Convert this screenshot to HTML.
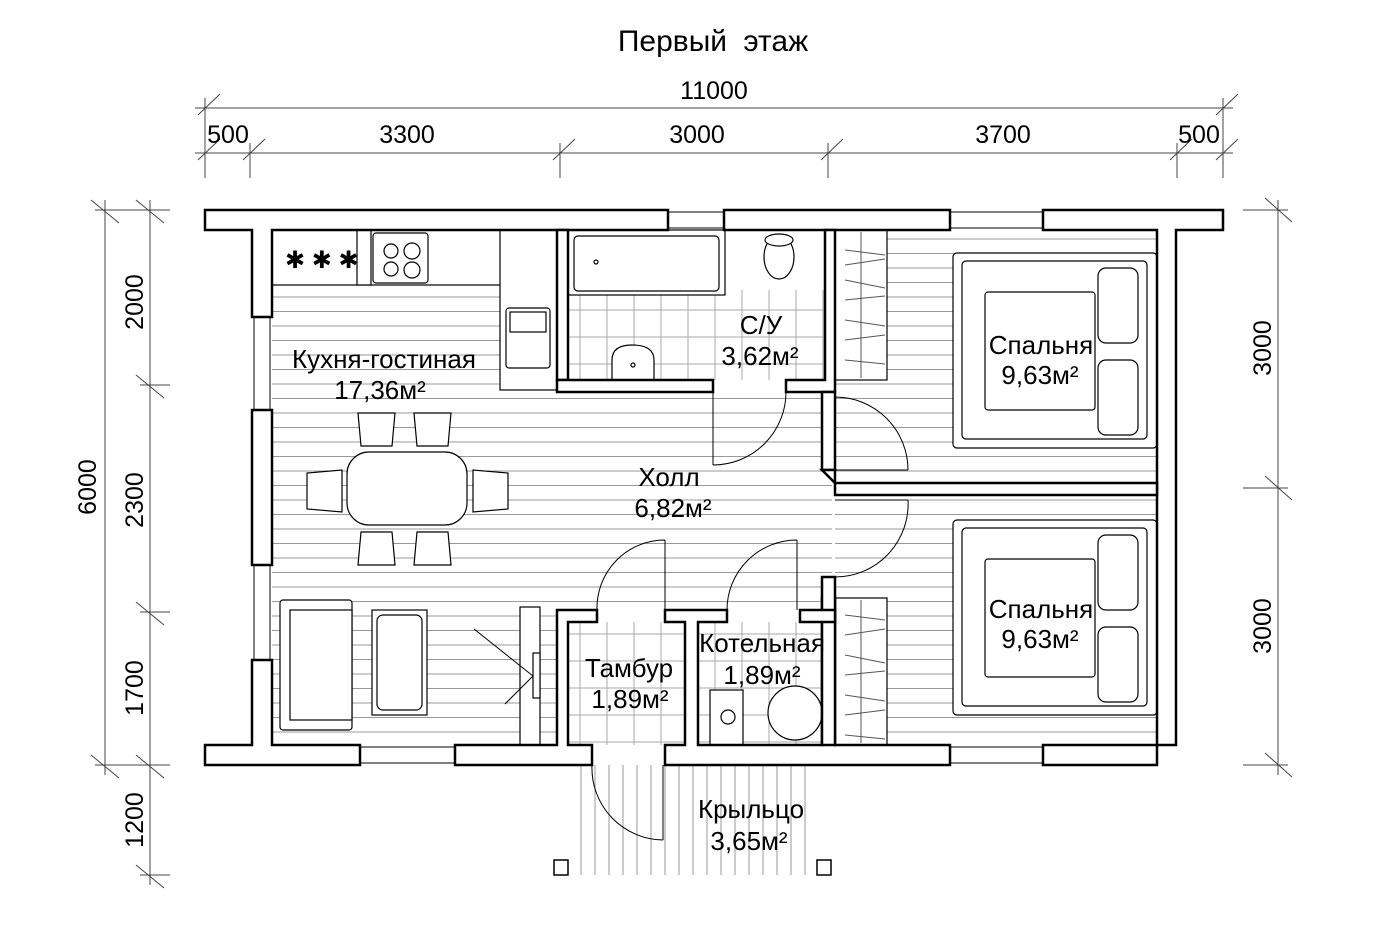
<!DOCTYPE html>
<html><head><meta charset="utf-8"><style>
html,body{margin:0;padding:0;background:#fff;}
svg{display:block;font-family:"Liberation Sans",sans-serif;}
</style></head><body>
<svg width="1380" height="932" viewBox="0 0 1380 932" xmlns="http://www.w3.org/2000/svg">
<defs>
<pattern id="hh" width="20" height="14.5" patternUnits="userSpaceOnUse"><line x1="0" y1="7" x2="20" y2="7" stroke="#999" stroke-width="1"/></pattern>
<pattern id="vv" width="14" height="20" patternUnits="userSpaceOnUse"><line x1="7" y1="0" x2="7" y2="20" stroke="#999" stroke-width="1"/></pattern>
<pattern id="gg" width="27" height="27" patternUnits="userSpaceOnUse"><path d="M13 0V27M0 13H27" stroke="#aaa" stroke-width="1"/></pattern>
</defs>
<rect x="272" y="285" width="285" height="460" fill="url(#hh)"/>
<rect x="557" y="390" width="275" height="220" fill="url(#hh)"/>
<rect x="835" y="230" width="322" height="515" fill="url(#hh)"/>
<rect x="568" y="290" width="257" height="90" fill="url(#gg)"/>
<rect x="568" y="622" width="117" height="123" fill="url(#gg)"/>
<rect x="698" y="622" width="124" height="123" fill="url(#gg)"/>
<rect x="568" y="765" width="249" height="110" fill="url(#vv)"/>
<g fill="#fff" stroke="#000" stroke-width="1.2">
<rect x="272" y="230" width="285" height="55"/>
<rect x="500" y="230" width="57" height="160"/>
<rect x="357" y="230" width="14" height="55"/>
<rect x="373" y="233" width="55" height="50" rx="3"/>
<circle cx="391" cy="251" r="7"/><circle cx="412" cy="251" r="8"/><circle cx="391" cy="269" r="7"/><circle cx="412" cy="270" r="8"/>
<rect x="506" y="308" width="44" height="60" rx="3"/><rect x="510" y="312" width="36" height="20"/>
</g>
<text x="285" y="268" font-size="24">✱ ✱ ✱</text>
<g fill="#fff" stroke="#000" stroke-width="1.2">
<rect x="568" y="230" width="157" height="65"/>
<rect x="574" y="236" width="145" height="55" rx="4"/>
<ellipse cx="779" cy="257" rx="15" ry="22"/><ellipse cx="779" cy="240" rx="14" ry="6"/>
<path d="M612 380 V360 Q612 345 632 345 Q654 345 654 360 V380 Z"/>
<circle cx="633" cy="365" r="2"/>
<circle cx="596" cy="262" r="2"/>
</g>
<g fill="#fff" stroke="#000" stroke-width="1.2">
<rect x="347" y="452" width="120" height="73" rx="22"/>
<path d="M358 413h37l-3 33h-31z"/><path d="M414 413h37l-3 33h-31z"/>
<path d="M358 565h37l-3-33h-31z"/><path d="M414 565h37l-3-33h-31z"/>
<path d="M307 473v36l35 3v-42z"/><path d="M508 473v36l-35 3v-42z"/>
<rect x="280" y="600" width="72" height="130" rx="3"/><rect x="290" y="610" width="62" height="110"/>
<rect x="372" y="610" width="55" height="105"/><rect x="377" y="615" width="45" height="95" rx="6"/>
<rect x="520" y="607" width="20" height="138"/><rect x="533" y="653" width="7" height="45"/>
</g>
<path d="M474 629L533 676L505 704" stroke="#000" fill="none"/>
<g fill="#fff" stroke="#000" stroke-width="1.2">
<rect x="835" y="230" width="52" height="150"/><rect x="835" y="598" width="52" height="147"/>
<rect x="953" y="253" width="204" height="195" rx="4"/><rect x="962" y="261" width="185" height="178" rx="4"/>
<rect x="985" y="292" width="110" height="118" rx="3"/>
<rect x="1098" y="268" width="40" height="75" rx="8"/><rect x="1098" y="360" width="40" height="75" rx="8"/>
<rect x="953" y="520" width="204" height="195" rx="4"/><rect x="962" y="528" width="185" height="178" rx="4"/>
<rect x="985" y="559" width="110" height="118" rx="3"/>
<rect x="1098" y="535" width="40" height="75" rx="8"/><rect x="1098" y="627" width="40" height="75" rx="8"/>
</g>
<g stroke="#555" stroke-width="1">
<line x1="861" y1="232" x2="861" y2="378"/><line x1="861" y1="600" x2="861" y2="743"/>
<path d="M845 250l40 5M845 265l40 -6M845 280l40 8M845 300l40-4M845 320l40 6M845 340l40-5M845 360l40 4"/>
<path d="M845 615l40 5M845 635l40 -6M845 655l40 8M845 675l40-4M845 695l40 6M845 715l40-5M845 735l40 4"/>
</g>
<g fill="#fff" stroke="#000" stroke-width="1.2">
<rect x="710" y="690" width="33" height="55"/><circle cx="728" cy="717" r="7"/>
<circle cx="795" cy="713" r="27"/>
</g>
<g fill="#fff" stroke="#000" stroke-width="2.5">
<path d="M205 210H668V230H272V317H252V230H205Z"/>
<rect x="724" y="210" width="226" height="20"/>
<path d="M1043 210H1223V230H1176V745H1157V230H1043Z"/>
<rect x="252" y="410" width="20" height="155"/>
<path d="M252 660H272V745H360V765H205V745H252Z"/>
<path d="M455 745H557V610H597V622H568V745H592V765H455Z"/>
<path d="M665 765V745H685V622H665V610H727V622H698V745H822V598H835V745H950V765Z"/>
<path d="M1043 745H1157V765H1043Z"/>
<path d="M557 230H568V380H557Z"/>
<path d="M557 380H713V392H557Z"/>
<path d="M786 380H825V230H835V380V392H786Z"/>
<path d="M822 392H835V470H822Z"/>
<path d="M822 577H835V745H822Z"/>
<path d="M822 470H835V495H1157V483H835Z"/>
<path d="M800 610H835V622H800Z"/>
</g>
<g stroke="#000" stroke-width="1" fill="none">
<path d="M668 212H724M668 228H724M950 212H1043M950 228H1043M950 747H1043M950 763H1043M360 747H455M360 763H455M254 317V410M270 317V410M254 565V660M270 565V660"/>
</g>
<g stroke="#000" stroke-width="1" fill="none">
<path d="M713 392V465M786 392A73 73 0 0 1 713 465"/>
<path d="M835 470H908M835 397A73 73 0 0 1 908 470"/>
<path d="M835 500H908M908 500A73 73 0 0 1 835 577"/>
<path d="M665 540V610M597 610A68 68 0 0 1 665 540"/>
<path d="M797 540V610M727 610A70 70 0 0 1 797 540"/>
<path d="M663 765V840M592 765A72 72 0 0 0 663 840"/>
</g>
<g fill="#fff" stroke="#000" stroke-width="1.5"><rect x="554" y="860" width="14" height="15"/><rect x="817" y="860" width="14" height="15"/></g>
<g font-size="26" text-anchor="middle" fill="#000">
<text x="384" y="368">Кухня-гостиная</text><text x="380" y="399">17,36м²</text>
<text x="761" y="334">С/У</text><text x="760" y="365">3,62м²</text>
<text x="669" y="486">Холл</text><text x="673" y="517">6,82м²</text>
<text x="1041" y="354">Спальня</text><text x="1040" y="384">9,63м²</text>
<text x="1041" y="618">Спальня</text><text x="1040" y="648">9,63м²</text>
<text x="629" y="677">Тамбур</text><text x="630" y="708">1,89м²</text>
<text x="762" y="652">Котельная</text><text x="762" y="684">1,89м²</text>
<text x="751" y="818">Крыльцо</text><text x="749" y="850">3,65м²</text>
</g>
<text x="713" y="51" font-size="30" text-anchor="middle" word-spacing="8">Первый этаж</text>
<g stroke="#444" stroke-width="1" fill="none">
<path d="M195 108H1233M195 153H1233"/>
<path d="M205 98V178M1223 98V178M250 143V178M560 143V178M828 143V178M1177 143V178"/>
<path d="M198 115L220 94M198 160L220 139M243 160L265 139M553 160L575 139M821 160L843 139M1170 160L1192 139M1216 160L1238 139M1216 115L1238 94"/>
<path d="M105 200V775M150 200V885M95 210H170M95 765H170M140 385H170M140 612H170M140 875H170"/>
<path d="M91 200L119 223M136 200L164 223M91 755L119 778M136 755L164 778M136 375L164 398M136 602L164 625M136 865L164 888"/>
<path d="M1278 200V775M1243 210H1288M1243 488H1288M1243 765H1288M1265 198L1292 222M1265 476L1292 500M1265 753L1292 777"/>
</g>
<g font-size="25" text-anchor="middle" fill="#000">
<text x="714" y="99">11000</text>
<text x="228" y="143">500</text><text x="407" y="143">3300</text><text x="697" y="143">3000</text><text x="1003" y="143">3700</text><text x="1199" y="143">500</text>
<text transform="translate(96,487) rotate(-90)">6000</text>
<text transform="translate(143,302) rotate(-90)">2000</text>
<text transform="translate(143,500) rotate(-90)">2300</text>
<text transform="translate(143,688) rotate(-90)">1700</text>
<text transform="translate(143,820) rotate(-90)">1200</text>
<text transform="translate(1271,348) rotate(-90)">3000</text>
<text transform="translate(1271,626) rotate(-90)">3000</text>
</g>
</svg>
</body></html>
